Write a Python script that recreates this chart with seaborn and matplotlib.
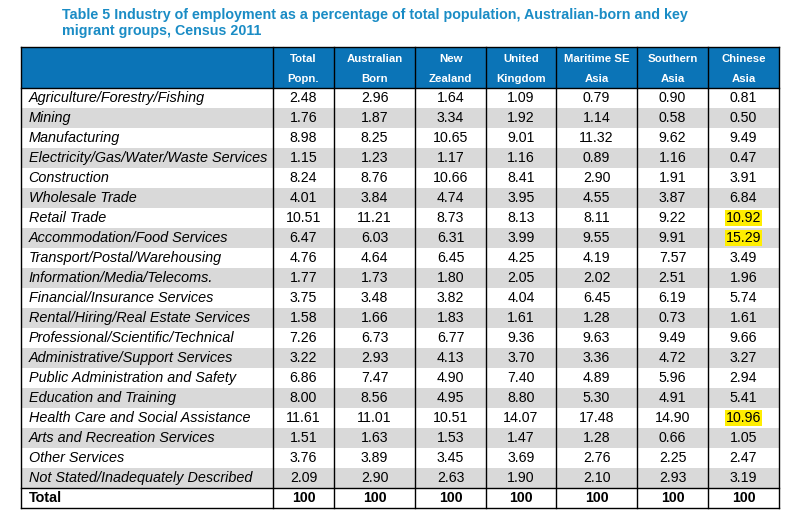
import numpy as np
import pandas as pd
import matplotlib
matplotlib.use("Agg")
import matplotlib.pyplot as plt
from matplotlib.colors import ListedColormap
import seaborn as sns

# Table data
industries = [
    "Agriculture/Forestry/Fishing", "Mining", "Manufacturing",
    "Electricity/Gas/Water/Waste Services", "Construction", "Wholesale Trade",
    "Retail Trade", "Accommodation/Food Services", "Transport/Postal/Warehousing",
    "Information/Media/Telecoms.", "Financial/Insurance Services",
    "Rental/Hiring/Real Estate Services", "Professional/Scientific/Technical",
    "Administrative/Support Services", "Public Administration and Safety",
    "Education and Training", "Health Care and Social Assistance",
    "Arts and Recreation Services", "Other Services",
    "Not Stated/Inadequately Described", "Total",
]
groups = ["Total\nPopn.", "Australian\nBorn", "New\nZealand", "United\nKingdom",
          "Maritime SE\nAsia", "Southern\nAsia", "Chinese\nAsia"]

total_popn = [2.48, 1.76, 8.98, 1.15, 8.24, 4.01, 10.51, 6.47, 4.76, 1.77, 3.75,
              1.58, 7.26, 3.22, 6.86, 8.00, 11.61, 1.51, 3.76, 2.09, 100]
australian = [2.96, 1.87, 8.25, 1.23, 8.76, 3.84, 11.21, 6.03, 4.64, 1.73, 3.48,
              1.66, 6.73, 2.93, 7.47, 8.56, 11.01, 1.63, 3.89, 2.90, 100]
new_zealand = [1.64, 3.34, 10.65, 1.17, 10.66, 4.74, 8.73, 6.31, 6.45, 1.80, 3.82,
               1.83, 6.77, 4.13, 4.90, 4.95, 10.51, 1.53, 3.45, 2.63, 100]
uk = [1.09, 1.92, 9.01, 1.16, 8.41, 3.95, 8.13, 3.99, 4.25, 2.05, 4.04,
      1.61, 9.36, 3.70, 7.40, 8.80, 14.07, 1.47, 3.69, 1.90, 100]
maritime_se = [0.79, 1.14, 11.32, 0.89, 2.90, 4.55, 8.11, 9.55, 4.19, 2.02, 6.45,
               1.28, 9.63, 3.36, 4.89, 5.30, 17.48, 1.28, 2.76, 2.10, 100]
southern = [0.90, 0.58, 9.62, 1.16, 1.91, 3.87, 9.22, 9.91, 7.57, 2.51, 6.19,
            0.73, 9.49, 4.72, 5.96, 4.91, 14.90, 0.66, 2.25, 2.93, 100]
chinese = [0.81, 0.50, 9.49, 0.47, 3.91, 6.84, 10.92, 15.29, 3.49, 1.96, 5.74,
           1.61, 9.66, 3.27, 2.94, 5.41, 10.96, 1.05, 2.47, 3.19, 100]
highlighted = [("Retail Trade", 6), ("Accommodation/Food Services", 6),
               ("Health Care and Social Assistance", 6)]

df = pd.DataFrame(
    np.column_stack([total_popn, australian, new_zealand, uk, maritime_se, southern, chinese]),
    index=industries, columns=groups,
)
n_rows, n_cols = df.shape

labels = df.map(lambda v: "100" if v == 100 else f"{v:.2f}").values
# alternating grey rows, total row white
shade = np.array([[i % 2] * n_cols for i in range(n_rows)])
shade[-1] = 0
hl_cells = {(industries.index(r), c) for r, c in highlighted}

W, H = 788, 519
fig = plt.figure(figsize=(W / 100, H / 100), dpi=100)
plt.rcParams["font.family"] = ["Liberation Sans", "DejaVu Sans"]

def px_axes(x0, y0, x1, y1):
    return fig.add_axes([x0 / W, 1 - y1 / H, (x1 - x0) / W, (y1 - y0) / H])

grey_map = ListedColormap(["white", "#d9d9d9"])
col_edges = [273, 334, 415, 486, 556, 637, 708, 779]
left_edge, head_top = 21, 47
body_top, total_top, body_bot = 88, 488, 508

# numbers: one heatmap column per group so widths match
for c in range(n_cols):
    a = px_axes(col_edges[c], body_top, col_edges[c + 1], body_bot)
    sns.heatmap(shade[:, [c]], cmap=grey_map, vmin=0, vmax=1,
                annot=labels[:, [c]], fmt="", cbar=False,
                xticklabels=False, yticklabels=False, ax=a,
                annot_kws={"fontsize": 10.2, "color": "black"})
    for t in a.texts:
        r = int(t.get_position()[1])
        if r == n_rows - 1:
            t.set_fontweight("bold")
        if (r, c) in hl_cells:
            t.set_bbox(dict(facecolor="#ffee00", edgecolor="none", pad=0.6))
    a.set_axis_off()

# label column
la = px_axes(left_edge, body_top, col_edges[0], body_bot)
sns.heatmap(shade[:, [0]], cmap=grey_map, vmin=0, vmax=1, cbar=False,
            xticklabels=False, yticklabels=False, ax=la)
for i, name in enumerate(industries):
    last = i == n_rows - 1
    la.text(0.03, i + 0.5, name, ha="left", va="center", fontsize=10.4,
            fontweight="bold" if last else "normal",
            fontstyle="normal" if last else "italic")
la.set_axis_off()

# header
ha = px_axes(left_edge, head_top, col_edges[-1], body_top)
ha.set_xlim(left_edge, col_edges[-1])
ha.set_ylim(1, 0)
ha.axvspan(left_edge, col_edges[-1], color="#0b74b7")
for c, g in enumerate(groups):
    top, bot = g.split("\n")
    cx = (col_edges[c] + col_edges[c + 1]) / 2
    ha.text(cx, 0.29, top, ha="center", va="center", color="white",
            fontsize=8.2, fontweight="bold")
    ha.text(cx, 0.78, bot, ha="center", va="center", color="white",
            fontsize=8.2, fontweight="bold")
ha.set_axis_off()

# grid lines over the whole table
ov = px_axes(0, 0, W, H)
ov.set_xlim(0, W)
ov.set_ylim(H, 0)
ov.patch.set_alpha(0)
for x in [left_edge] + col_edges:
    ov.plot([x, x], [head_top, body_bot], color="black", lw=1.0)
for y in [head_top, body_top, total_top, body_bot]:
    ov.plot([left_edge, col_edges[-1]], [y, y], color="black", lw=1.0)
ov.set_axis_off()

fig.text(62 / W, 1 - 23 / H,
         "Table 5 Industry of employment as a percentage of total population, Australian-born and key\nmigrant groups, Census 2011",
         ha="left", va="center", fontsize=10.3, fontweight="bold", color="#1a8cc5",
         linespacing=1.2)

fig.savefig("out.png", dpi=100)
